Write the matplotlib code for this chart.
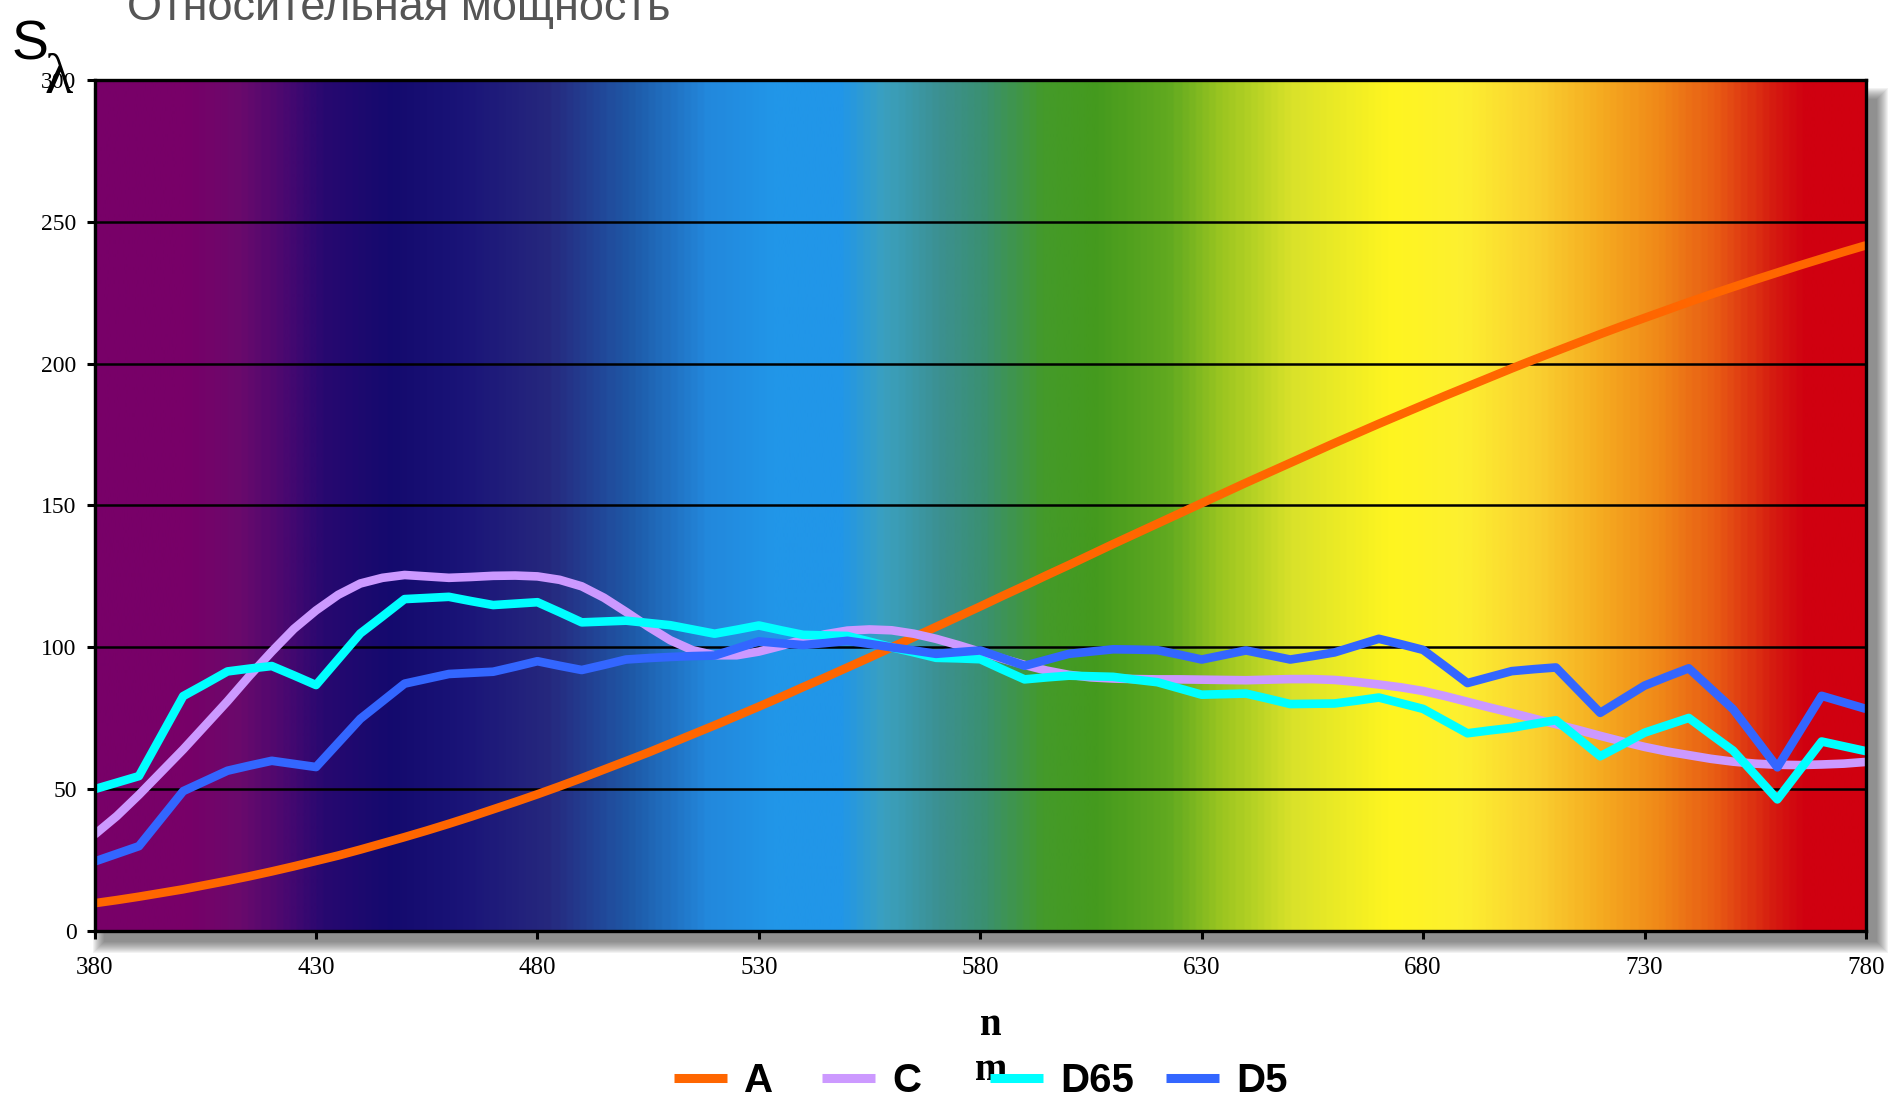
import numpy as np
import matplotlib
matplotlib.use("Agg")
import matplotlib.pyplot as plt
from matplotlib.colors import LinearSegmentedColormap
from matplotlib.lines import Line2D
from matplotlib.patches import Rectangle

# wavelength grid, nm
wl = np.arange(380, 785, 5)

illum_a = [9.8, 10.9, 12.1, 13.4, 14.7, 16.2, 17.7, 19.3, 21.0, 22.8,
           24.7, 26.6, 28.7, 30.9, 33.1, 35.4, 37.8, 40.3, 42.9, 45.5,
           48.2, 51.0, 53.9, 56.9, 59.9, 62.9, 66.1, 69.3, 72.5, 75.8,
           79.1, 82.5, 86.0, 89.4, 92.9, 96.4, 100.0, 103.6, 107.2, 110.8,
           114.4, 118.1, 121.7, 125.4, 129.0, 132.7, 136.4, 140.0, 143.6, 147.2,
           150.8, 154.4, 158.0, 161.5, 165.0, 168.5, 172.0, 175.4, 178.8, 182.1,
           185.4, 188.7, 191.9, 195.1, 198.3, 201.4, 204.4, 207.4, 210.4, 213.3,
           216.1, 218.9, 221.7, 224.4, 227.0, 229.6, 232.1, 234.6, 237.0, 239.4,
           241.7]

illum_c = [34.0, 40.5, 48.0, 56.0, 64.0, 72.5, 81.0, 90.0, 98.5, 106.5,
           113.0, 118.5, 122.5, 124.5, 125.5, 125.0, 124.5, 124.8, 125.2, 125.3,
           125.0, 123.8, 121.5, 117.5, 112.5, 107.3, 102.5, 99.0, 97.2, 97.2,
           98.5, 100.5, 102.7, 104.6, 105.9, 106.3, 106.0, 104.8, 103.0, 100.8,
           98.4, 96.0, 93.8, 91.8, 90.3, 89.4, 89.0, 88.8, 88.7, 88.7,
           88.6, 88.5, 88.4, 88.6, 88.8, 88.8, 88.5, 87.8, 86.9, 85.9,
           84.6, 82.8, 80.8, 78.8, 76.9, 74.9, 72.9, 70.9, 68.8, 66.8,
           64.9, 63.3, 62.0, 60.7, 59.7, 59.0, 58.6, 58.5, 58.7, 59.0,
           59.6]

illum_d65 = [50.0, 52.3, 54.6, 68.7, 82.8, 87.1, 91.5, 92.5, 93.4, 90.1,
             86.7, 95.8, 104.9, 110.9, 117.0, 117.4, 117.8, 116.3, 114.9, 115.4,
             115.9, 112.4, 108.8, 109.1, 109.4, 108.6, 107.8, 106.3, 104.8, 106.2,
             107.7, 106.0, 104.4, 104.2, 104.0, 102.0, 100.0, 98.2, 96.3, 96.1,
             95.8, 92.2, 88.7, 89.4, 90.0, 89.8, 89.6, 88.6, 87.7, 85.5,
             83.3, 83.5, 83.7, 81.9, 80.0, 80.1, 80.2, 81.2, 82.3, 80.3,
             78.3, 74.0, 69.7, 70.7, 71.6, 73.0, 74.3, 68.0, 61.6, 65.7,
             69.9, 72.5, 75.1, 69.3, 63.6, 55.0, 46.4, 56.6, 66.8, 65.1,
             63.4]

illum_d5 = [24.5, 27.2, 29.9, 39.6, 49.3, 52.9, 56.5, 58.3, 60.0, 58.9,
            57.8, 66.3, 74.8, 81.0, 87.2, 88.9, 90.6, 91.0, 91.4, 93.2,
            95.1, 93.5, 92.0, 93.8, 95.7, 96.2, 96.6, 96.9, 97.1, 99.6,
            102.1, 101.4, 100.8, 101.5, 102.3, 101.2, 100.0, 98.9, 97.7, 98.3,
            98.9, 96.2, 93.5, 95.6, 97.7, 98.5, 99.3, 99.2, 99.0, 97.4,
            95.7, 97.3, 98.9, 97.3, 95.7, 96.9, 98.2, 100.6, 103.0, 101.1,
            99.1, 93.3, 87.4, 89.5, 91.6, 92.3, 92.9, 84.9, 76.9, 81.7,
            86.5, 89.6, 92.6, 85.4, 78.2, 68.0, 57.7, 70.3, 82.9, 80.6,
            78.3]

series = [("A", illum_a, "#FF6600"),
          ("C", illum_c, "#CC99FF"),
          ("D65", illum_d65, "#00FFFF"),
          ("D5", illum_d5, "#3366FF")]

# background spectrum, (wavelength, colour)
spectrum = [(380, "#780068"), (400, "#780068"), (412, "#6a0a6c"), (422, "#4a0870"),
            (431, "#280870"), (446, "#140a6e"), (463, "#1a1478"), (482, "#26287e"),
            (501, "#1e5aa8"), (518, "#2388dc"), (533, "#2196e8"), (548, "#2196e8"),
            (558, "#3aa0c0"), (571, "#3c9090"), (581, "#3a9070"), (594, "#449a2a"),
            (606, "#449a1e"), (623, "#62aa20"), (634, "#98c420"), (651, "#dae22a"),
            (673, "#fff520"), (689, "#fdf030"), (706, "#fad030"), (721, "#f5aa20"),
            (734, "#f08818"), (747, "#e85a14"), (760, "#d51a10"), (767, "#d00010"),
            (780, "#d00010")]

serif = ["Liberation Serif", "DejaVu Serif"]
sans = ["Liberation Sans", "DejaVu Sans"]

FW, FH = 1904, 1109
fig = plt.figure(figsize=(FW / 100, FH / 100), dpi=100)
L, B, W, H = 0.0497, 0.1605, 0.9303, 0.7674
ax = fig.add_axes([L, B, W, H])

# soft drop shadow to the lower right of the plot area
for k in range(12, 0, -1):
    fig.patches.append(Rectangle((L + (10 - k) / FW, B - (10 + k) / FH),
                                 W + 2 * k / FW, H + (2 * k - 10) / FH,
                                 transform=fig.transFigure, facecolor="#303030",
                                 edgecolor="none", alpha=0.06, zorder=-5))

cmap = LinearSegmentedColormap.from_list(
    "spec", [((w - 380) / 400, c) for w, c in spectrum])
ax.imshow(np.linspace(0, 1, 800)[None, :], cmap=cmap, aspect="auto",
          extent=[380, 780, 0, 300], interpolation="bilinear", zorder=0)

for name, vals, col in series:
    ax.plot(wl, vals, color=col, lw=6.2, label=name,
            solid_joinstyle="round", solid_capstyle="butt", zorder=3)

ax.set_xlim(380, 780)
ax.set_ylim(0, 300)
ax.set_xticks(range(380, 781, 50))
ax.set_yticks(range(0, 301, 50))
ax.yaxis.grid(True, color="black", lw=1.8)
ax.set_axisbelow("line")
for s in ax.spines.values():
    s.set_linewidth(2.4)
    s.set_zorder(4)
ax.tick_params(axis="both", direction="out", length=6, width=2.2, color="black")
ax.tick_params(axis="x", pad=13, labelsize=18)
ax.tick_params(axis="y", pad=7, labelsize=17)
for lab in ax.get_xticklabels() + ax.get_yticklabels():
    lab.set_family(serif)

fig.text(127 / FW, 1 - 20 / FH, "Относительная мощность", family=sans,
         fontsize=32.5, color="#555555", va="baseline", ha="left")
fig.text(12 / FW, 1 - 60 / FH, "S", family=sans, fontsize=40,
         va="baseline", ha="left")
fig.text(45 / FW, 1 - 93 / FH, "λ", family=serif, fontsize=42,
         va="baseline", ha="left")

fig.text(991 / FW, 1 - 1035 / FH, "n", family=serif, fontsize=28,
         fontweight="bold", ha="center", va="baseline")
fig.text(991 / FW, 1 - 1080 / FH, "m", family=serif, fontsize=28,
         fontweight="bold", ha="center", va="baseline")

# legend row under the plot: short thick swatch, then the bold label
swatch_x = [674, 822, 990, 1166]
for (name, _, col), x0 in zip(series, swatch_x):
    fig.add_artist(Line2D([x0 / FW, (x0 + 53) / FW], [1 - 1078 / FH] * 2,
                          transform=fig.transFigure, color=col, lw=6.5,
                          solid_capstyle="butt", zorder=6))
    fig.text((x0 + 70) / FW, 1 - 1092 / FH, name, family=sans, fontsize=29,
             fontweight="bold", va="baseline", ha="left")

fig.savefig("out.png", dpi=100)
